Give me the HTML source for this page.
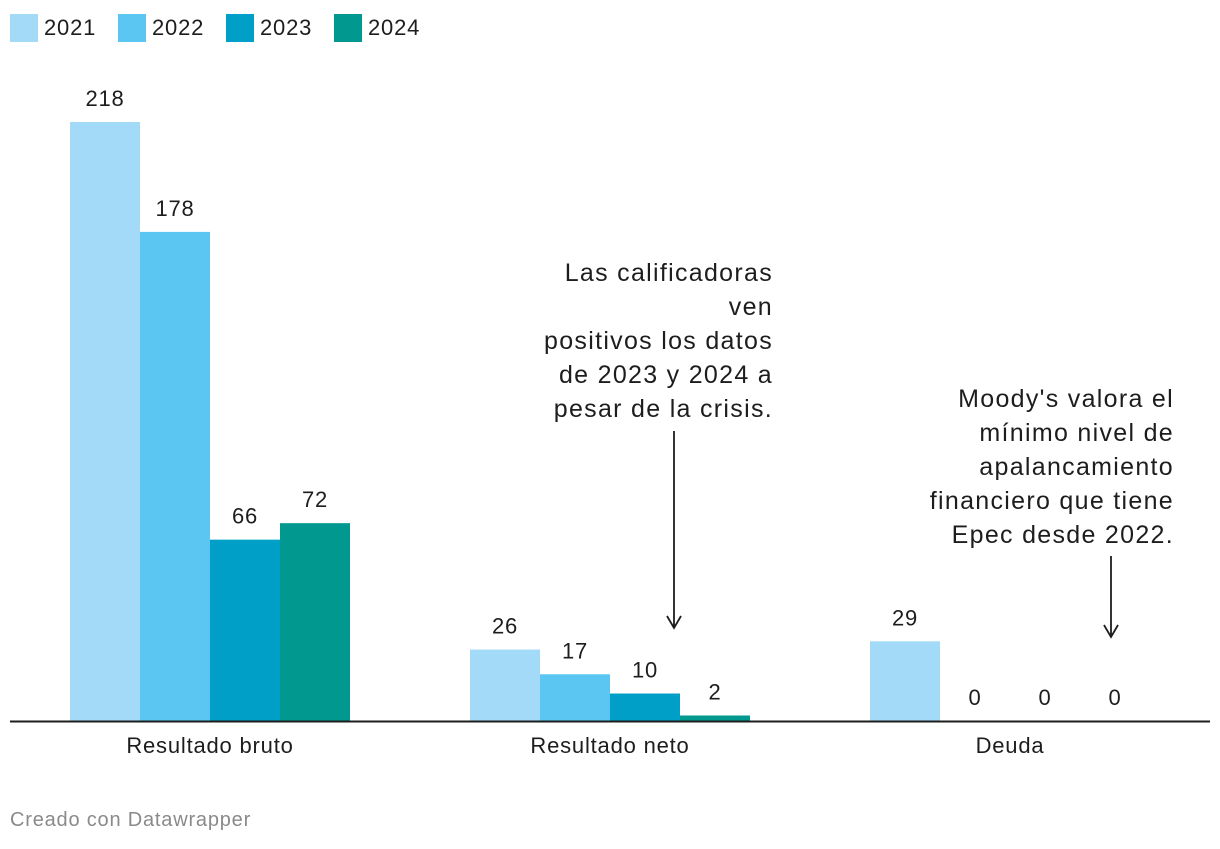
<!DOCTYPE html>
<html><head><meta charset="utf-8"><style>
body{margin:0;background:#fff;width:1220px;height:844px;overflow:hidden;font-family:"Liberation Sans",sans-serif;}
svg text{font-family:"Liberation Sans",sans-serif;fill:#1d1d1d;letter-spacing:0.8px;}
svg text.ann{letter-spacing:1.3px;}
</style></head><body>
<svg id="chart" width="1220" height="844" xmlns="http://www.w3.org/2000/svg"></svg>
<script>
const categories = ["Resultado bruto", "Resultado neto", "Deuda"];
const years = ["2021", "2022", "2023", "2024"];
const s2021 = [218, 26, 29];
const s2022 = [178, 17, 0];
const s2023 = [66, 10, 0];
const s2024 = [72, 2, 0];
const colors = ["#a3daf7", "#5bc6f2", "#009fc8", "#00988f"];
const series = [s2021, s2022, s2023, s2024];

const NS = "http://www.w3.org/2000/svg";
const svg = document.getElementById("chart");
const baseY = 721, pxPerUnit = 599/218;
const y = v => baseY - v*pxPerUnit;
const groupX = i => 70 + i*400;
const barW = 70;
function mk(tag, attrs, text){const e=document.createElementNS(NS,tag);for(const k in attrs)e.setAttribute(k,attrs[k]);if(text!==undefined)e.textContent=text;svg.appendChild(e);return e;}

years.forEach((yr,i)=>{
  const x0 = 10 + i*108;
  const r = mk("rect",{x:x0,y:14,width:28,height:28,fill:colors[i]});
  
  
  const t = mk("text",{x:x0+34,y:35,"font-size":22},yr);
  
  
});

categories.forEach((c,ci)=>{
  series.forEach((s,si)=>{
    const v = s[ci];
    const x = groupX(ci) + si*barW;
    const b = mk("rect",{x:x,y:y(v),width:barW,height:baseY-y(v),fill:colors[si]});
    
    
    const t = mk("text",{x:x+barW/2,y:y(v)-16,"font-size":22,"text-anchor":"middle"},String(v));
    
    
  });
  const l = mk("text",{x:groupX(ci)+140,y:753,"font-size":22,"text-anchor":"middle"},c);
  
  
});

const ax = mk("line",{x1:10,x2:1210,y1:baseY+0.5,y2:baseY+0.5,stroke:"#1d1d1d","stroke-width":2});



function annot(lines, xr, y0, name){
  lines.forEach((ln,i)=>{
    const t = mk("text",{x:xr+1,y:y0+i*34,"font-size":25,"text-anchor":"end","class":"ann"},ln);
    
    
  });
}
annot(["Las calificadoras","ven","positivos los datos","de 2023 y 2024 a","pesar de la crisis."],772,281,'annotation-neto');
annot(["Moody's valora el","mínimo nivel de","apalancamiento","financiero que tiene","Epec desde 2022."],1173,407,'annotation-deuda');
function arrow(x,y1,y2,name){
  const g = mk("path",{d:`M${x} ${y1} L${x} ${y2} M${x-7} ${y2-12} L${x} ${y2} L${x+7} ${y2-12}`,stroke:"#1d1d1d","stroke-width":1.8,fill:"none"});
  
  
}
arrow(674,431,628,'arrow-neto');
arrow(1111,556,637,'arrow-deuda');

const f = mk("text",{x:10,y:826,"font-size":20},"Creado con Datawrapper");
f.style.fill='#8a8a8a';


</script>
</body></html>
